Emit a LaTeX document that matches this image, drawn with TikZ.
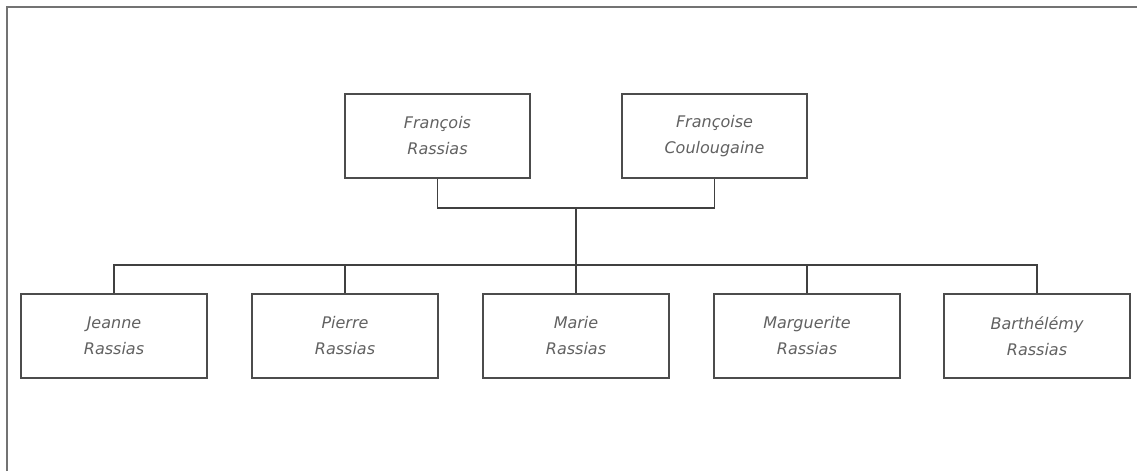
\documentclass[tikz,border=0pt]{standalone}
\usepackage{fontspec}
\setmainfont{DejaVu Sans}
\begin{document}
\begin{tikzpicture}[x=1pt,y=-1pt,
  person/.style={draw=black!70, line width=1.2pt, minimum width=186pt, minimum height=84pt, inner sep=0pt, align=center, text=black!62, font=\fontsize{16}{26}\selectfont\itshape},
  link/.style={draw=black!75, line width=1.3pt},
  frame/.style={draw=black!55, line width=1.5pt}]
\useasboundingbox (0,0) rectangle (1137,471);
\draw[frame] (7,471) -- (7,7) -- (1137,7);
\node[person, minimum width=185pt] (f) at (437.5,136) {François\\Rassias};
\node[person, minimum width=185pt] (m) at (714.5,136) {Françoise\\Coulougaine};
\node[person] (c1) at (114,336) {Jeanne\\Rassias};
\node[person] (c2) at (345,336) {Pierre\\Rassias};
\node[person] (c3) at (576,336) {Marie\\Rassias};
\node[person] (c4) at (807,336) {Marguerite\\Rassias};
\node[person] (c5) at (1037,336) {Barthélémy\\Rassias};
\coordinate (j) at (576,208);
\coordinate (h) at (576,265);
\draw[link] (f.south) |- (j) -| (m.south);
\draw[link] (j) -- (h);
\draw[link] (c1.north) |- (h) -| (c5.north);
\draw[link] (c2.north) -- (c2.north |- h);
\draw[link] (c3.north) -- (h);
\draw[link] (c4.north) -- (c4.north |- h);
\end{tikzpicture}
\end{document}
